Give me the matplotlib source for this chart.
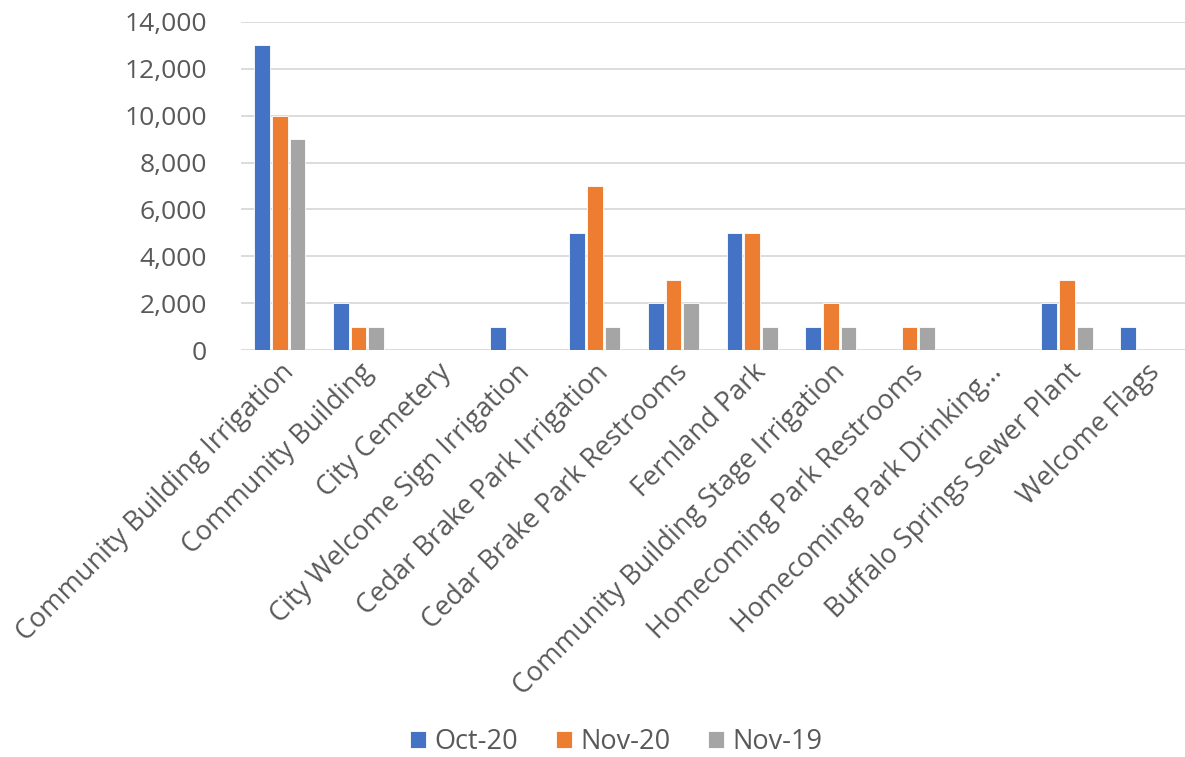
import numpy as np
import matplotlib
matplotlib.use('Agg')
from matplotlib import pyplot as plt
from matplotlib.ticker import FuncFormatter

categories = ['Community Building Irrigation', 'Community Building', 'City Cemetery',
              'City Welcome Sign Irrigation', 'Cedar Brake Park Irrigation',
              'Cedar Brake Park Restrooms', 'Fernland Park',
              'Community Building Stage Irrigation', 'Homecoming Park Restrooms',
              'Homecoming Park Drinking...', 'Buffalo Springs Sewer Plant', 'Welcome Flags']

oct20 = [13000, 2000, 0, 1000, 5000, 2000, 5000, 1000, 0, 0, 2000, 1000]
nov20 = [10000, 1000, 0, 0, 7000, 3000, 5000, 2000, 1000, 0, 3000, 0]
nov19 = [9000, 1000, 0, 0, 1000, 2000, 1000, 1000, 1000, 0, 1000, 0]

series = [('Oct-20', oct20, '#4472C4'), ('Nov-20', nov20, '#ED7D31'), ('Nov-19', nov19, '#A5A5A5')]

plt.rcParams['font.family'] = ['Open Sans', 'DejaVu Sans']
text_color = '#595959'

fig = plt.figure(figsize=(11.85, 7.57), dpi=100)
ax = fig.add_axes([0.203, 0.5376, 0.797, 0.4334])

x = np.arange(len(categories))
w = 0.2
for i, (name, vals, col) in enumerate(series):
    ax.bar(x + (i - 1) * 0.225, vals, width=w, color=col, label=name,
           edgecolor='white', linewidth=0.6, zorder=3)

ax.set_xlim(-0.5, len(categories) - 0.5)
ax.set_ylim(0, 14000)
ax.set_yticks(np.arange(0, 14001, 2000))
ax.yaxis.set_major_formatter(FuncFormatter(lambda v, p: f'{int(v):,}'))
ax.grid(axis='y', color='#D9D9D9', linewidth=1.3, zorder=0)
for s in ax.spines.values():
    s.set_visible(False)
ax.tick_params(axis='y', length=0, pad=24, labelsize=19, labelcolor=text_color)
ax.tick_params(axis='x', length=0, pad=6, labelsize=19.5, labelcolor=text_color)
ax.set_xticks(x)
ax.set_xticklabels(categories, rotation=45, ha='right', rotation_mode='anchor')

fig.legend(loc='center', bbox_to_anchor=(0.52, 0.02), ncol=3, frameon=False,
           fontsize=19.5, labelcolor=text_color, handlelength=0.6, handleheight=0.6,
           handletextpad=0.3, columnspacing=1.4)

fig.savefig('out.png', dpi=100)
